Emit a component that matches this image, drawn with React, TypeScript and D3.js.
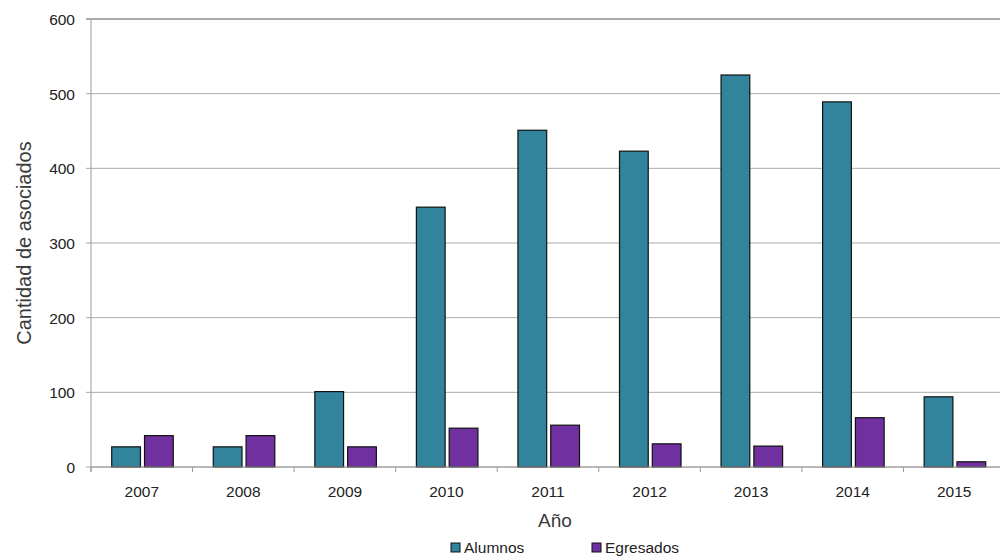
import React from "react";
import * as d3 from "d3";

const years = ["2007", "2008", "2009", "2010", "2011", "2012", "2013", "2014", "2015"];
const alumnos = [27, 27, 101, 348, 451, 423, 525, 489, 94];
const egresados = [42, 42, 27, 52, 56, 31, 28, 66, 7];
const yTicks = [0, 100, 200, 300, 400, 500, 600];
const seriesNames = ["Alumnos", "Egresados"];
const colors = ["#31849B", "#7030A0"];

export default function App() {
  const W = 1000, H = 558;
  const left = 91, top = 19, bottom = 467, right = 1005;
  const x = d3.scaleBand<string>().domain(years).range([left, right]).paddingInner(0).paddingOuter(0);
  const y = d3.scaleLinear().domain([0, 600]).range([bottom, top]);
  const bw = x.bandwidth();
  const barW = bw * 0.283;
  const gap = bw * 0.04;
  const offset = bw * 0.204;
  const font = "'Liberation Sans', Arial, sans-serif";
  return (
    <svg width={W} height={H} style={{ position: "absolute", left: 0, top: 0, background: "#fff" }} fontFamily={font}>
      {yTicks.map((t) => (
        <g key={t}>
          <line x1={left - 5} x2={W} y1={y(t)} y2={y(t)} stroke={t === 600 ? "#555" : "#ABABAB"} strokeWidth={1} />
          <text x={75} y={y(t)} dy="0.38em" textAnchor="end" fontSize={15.5} fill="#222">{t}</text>
        </g>
      ))}
      <line x1={left} x2={left} y1={top} y2={bottom + 5} stroke="#9A9A9A" />
      {years.map((yr, i) => (
        <g key={yr}>
          <line x1={x(yr)!} x2={x(yr)!} y1={bottom} y2={bottom + 5} stroke="#9A9A9A" />
          <text x={x(yr)! + bw / 2} y={497} textAnchor="middle" fontSize={15.5} fill="#222">{yr}</text>
          {[alumnos[i], egresados[i]].map((v, s) => (
            <rect key={s}
              x={x(yr)! + offset + s * (barW + gap)}
              y={y(v)}
              width={barW}
              height={bottom - y(v)}
              fill={colors[s]}
              stroke="#111"
              strokeWidth={1.2} />
          ))}
        </g>
      ))}
      <line x1={left} x2={W} y1={bottom} y2={bottom} stroke="#9A9A9A" />
      <text transform={`translate(31,243) rotate(-90)`} textAnchor="middle" fontSize={20} fill="#3a3a3a">Cantidad de asociados</text>
      <text x={555} y={527} textAnchor="middle" fontSize={19} fill="#3a3a3a">Año</text>
      {seriesNames.map((n, i) => (
        <g key={n} transform={`translate(${451 + i * 141},553)`}>
          <rect x={0} y={-10} width={9} height={9} fill={colors[i]} stroke="#111" strokeWidth={1} />
          <text x={13} y={0} fontSize={15.5} fill="#222">{n}</text>
        </g>
      ))}
    </svg>
  );
}
